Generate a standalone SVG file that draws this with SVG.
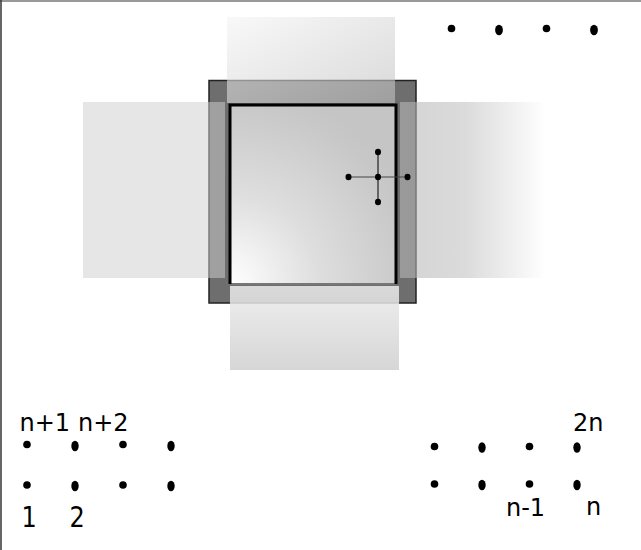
<svg xmlns="http://www.w3.org/2000/svg" width="641" height="550" viewBox="0 0 641 550">
  <defs>
    <linearGradient id="gTop" x1="0" y1="0" x2="1" y2="1">
      <stop offset="0" stop-color="#f4f4f4"/>
      <stop offset="1" stop-color="#c0c0c0"/>
    </linearGradient>
    <linearGradient id="gRight" x1="0" y1="0" x2="1" y2="0">
      <stop offset="0" stop-color="#b7b7b7" stop-opacity="0.6"/>
      <stop offset="0.45" stop-color="#b7b7b7" stop-opacity="0.5"/>
      <stop offset="1" stop-color="#b7b7b7" stop-opacity="0"/>
    </linearGradient>
    <linearGradient id="gBottom" x1="0" y1="0" x2="0" y2="1">
      <stop offset="0" stop-color="#ececec"/>
      <stop offset="1" stop-color="#cfcfcf"/>
    </linearGradient>
    <radialGradient id="gInner" gradientUnits="userSpaceOnUse" cx="229" cy="284" r="200">
      <stop offset="0" stop-color="#ffffff"/>
      <stop offset="0.45" stop-color="#dedede"/>
      <stop offset="0.9" stop-color="#c8c8c8"/>
      <stop offset="1" stop-color="#c5c5c5"/>
    </radialGradient>
  </defs>
  <style>
    .lbl { font-family: "DejaVu Sans", sans-serif; font-size: 24px; fill: #000; }
    .dot { fill: #000; }
  </style>
  <rect x="0" y="0" width="641" height="550" fill="#fff"/>
  <g id="frame">
    <line x1="0" y1="1" x2="641" y2="1" stroke="#777" stroke-width="1.5"/>
    <line x1="1" y1="0" x2="1" y2="550" stroke="#333" stroke-width="1.5"/>
  </g>

  <g id="outer-square">
    <rect x="209" y="80.5" width="207" height="222.5" fill="#6e6e6e" stroke="#222" stroke-width="1.5"/>
  </g>

  <g id="band-top">
    <rect x="227" y="17" width="168" height="86" fill="url(#gTop)" fill-opacity="0.6"/>
  </g>
  <g id="band-left">
    <rect x="83" y="102" width="142" height="176" fill="#cfcfcf" fill-opacity="0.52"/>
  </g>
  <g id="band-right">
    <rect x="400" y="102" width="146" height="176" fill="url(#gRight)"/>
  </g>
  <g id="band-bottom">
    <rect x="230" y="286" width="169" height="84" fill="url(#gBottom)" fill-opacity="0.85"/>
  </g>

  <g id="inner-square">
    <rect x="230" y="105" width="166" height="179" fill="url(#gInner)"/>
    <line x1="230" y1="284" x2="396" y2="284" stroke="#777" stroke-width="2"/>
    <path d="M230,284 V105 H396 V284" fill="none" stroke="#000" stroke-width="3"/>
  </g>

  <g id="crosshair">
    <line x1="348.5" y1="177" x2="407.5" y2="177" stroke="#444" stroke-width="1"/>
    <line x1="378" y1="152" x2="378" y2="202" stroke="#000" stroke-width="1"/>
    <ellipse class="dot" cx="378" cy="177" rx="3" ry="3.3"/>
    <ellipse class="dot" cx="378" cy="152" rx="3" ry="3.3"/>
    <ellipse class="dot" cx="378" cy="202" rx="3" ry="3.3"/>
    <ellipse class="dot" cx="348.5" cy="177" rx="3" ry="3.3"/>
    <ellipse class="dot" cx="407.5" cy="177" rx="3" ry="3.3"/>
  </g>

  <g id="dots-top-right">
    <circle class="dot" cx="451.5" cy="28.5" r="3.8"/>
    <ellipse class="dot" cx="499" cy="30" rx="3.9" ry="5.2"/>
    <circle class="dot" cx="546.5" cy="28.5" r="3.8"/>
    <ellipse class="dot" cx="594" cy="30" rx="3.9" ry="5.2"/>
  </g>

  <g id="pads-left">
    <circle class="dot" cx="27" cy="444.5" r="3.8"/>
    <ellipse class="dot" cx="75" cy="446" rx="3.7" ry="5.2"/>
    <circle class="dot" cx="123" cy="444.5" r="3.8"/>
    <ellipse class="dot" cx="171" cy="446" rx="3.7" ry="5.2"/>
    <circle class="dot" cx="27" cy="485" r="3.8"/>
    <ellipse class="dot" cx="75" cy="486" rx="3.7" ry="5.2"/>
    <circle class="dot" cx="123" cy="485" r="3.8"/>
    <ellipse class="dot" cx="171" cy="486" rx="3.7" ry="5.2"/>
    <text class="lbl" x="19.5" y="431">n+1</text>
    <text class="lbl" x="78" y="431">n+2</text>
    <text class="lbl" transform="translate(21.5,526.5) scale(1,1.18)">1</text>
    <text class="lbl" transform="translate(69.5,526.5) scale(1,1.18)">2</text>
  </g>

  <g id="pads-right">
    <circle class="dot" cx="434.5" cy="446.5" r="3.8"/>
    <ellipse class="dot" cx="482" cy="447.5" rx="3.7" ry="5.2"/>
    <circle class="dot" cx="529.5" cy="446.5" r="3.8"/>
    <ellipse class="dot" cx="577" cy="447.5" rx="3.7" ry="5.2"/>
    <circle class="dot" cx="434.5" cy="484" r="3.8"/>
    <ellipse class="dot" cx="482" cy="485" rx="3.7" ry="5.2"/>
    <circle class="dot" cx="529.5" cy="484" r="3.8"/>
    <ellipse class="dot" cx="577" cy="485" rx="3.7" ry="5.2"/>
    <text class="lbl" x="573" y="430.5">2n</text>
    <text class="lbl" x="506" y="515.5">n-1</text>
    <text class="lbl" x="586" y="514.5">n</text>
  </g>
</svg>
